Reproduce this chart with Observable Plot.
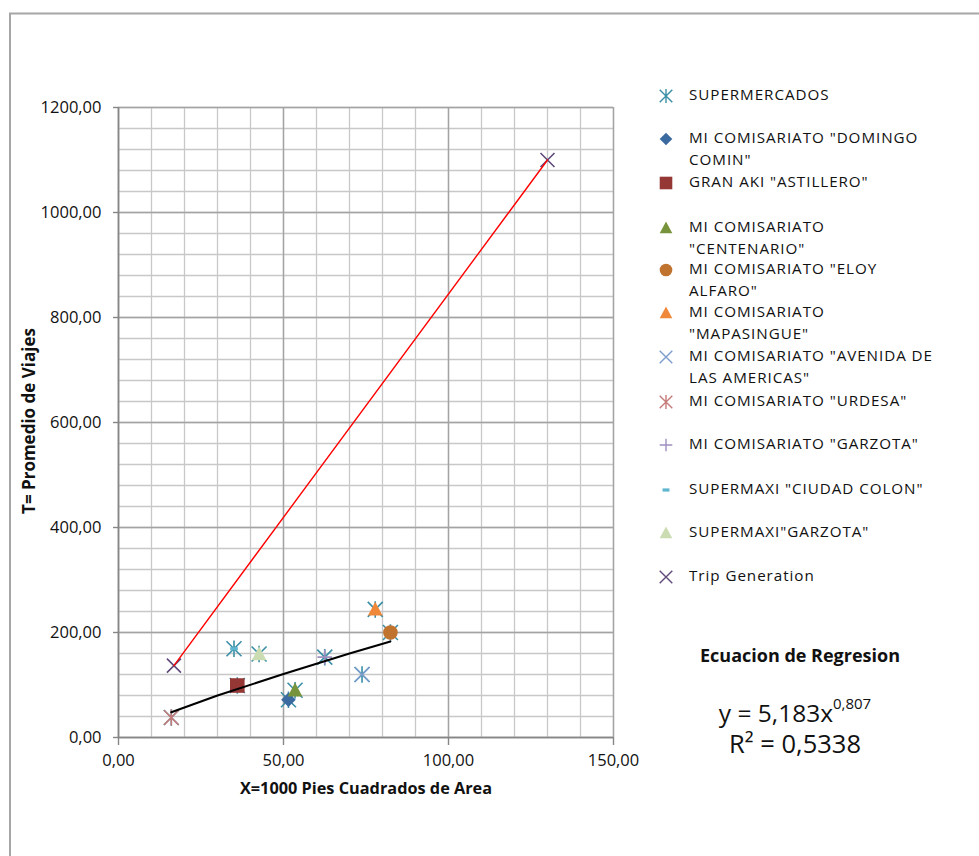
<!DOCTYPE html>
<html><head><meta charset="utf-8">
<script src="https://cdn.jsdelivr.net/npm/d3@7"></script>
<script src="https://cdn.jsdelivr.net/npm/@observablehq/plot@0.6"></script>
<style>
body{margin:0;background:#fff;}
#chart{width:979px;height:856px;overflow:hidden;}
</style>
</head><body><div id="chart"></div>
<script>
// ---------- data ----------
const storeNames = [
  'MI COMISARIATO "DOMINGO COMIN"', 'GRAN AKI "ASTILLERO"', 'MI COMISARIATO "CENTENARIO"',
  'MI COMISARIATO "ELOY ALFARO"', 'MI COMISARIATO "MAPASINGUE"', 'MI COMISARIATO "AVENIDA DE LAS AMERICAS"',
  'MI COMISARIATO "URDESA"', 'MI COMISARIATO "GARZOTA"', 'SUPERMAXI "CIUDAD COLON"', 'SUPERMAXI"GARZOTA"'
];
const storeX = [51.5, 36.0, 53.5, 82.4, 77.8, 73.8, 16.0, 62.5, 35.0, 42.6];
const storeY = [72, 99, 90, 200, 244, 120, 38, 153, 169, 159];
const tripX = [16.8, 130.0];
const tripY = [137, 1100];
const trendX = [16, 30, 50, 70, 82.4];
const trendY = [48, 80, 121, 160, 183];
const xTicks = [0, 50, 100, 150];
const yTicks = [0, 200, 400, 600, 800, 1000, 1200];
const xMinor = [0,10,20,30,40,50,60,70,80,90,100,110,120,130,140,150];
const yMinor = [0,40,80,120,160,200,240,280,320,360,400,440,480,520,560,600,640,680,720,760,800,840,880,920,960,1000,1040,1080,1120,1160,1200];
const legendLabels = [
  ["SUPERMERCADOS"],
  ['MI COMISARIATO "DOMINGO', 'COMIN"'],
  ['GRAN AKI "ASTILLERO"'],
  ["MI COMISARIATO", '"CENTENARIO"'],
  ['MI COMISARIATO "ELOY', 'ALFARO"'],
  ["MI COMISARIATO", '"MAPASINGUE"'],
  ['MI COMISARIATO "AVENIDA DE', 'LAS AMERICAS"'],
  ['MI COMISARIATO "URDESA"'],
  ['MI COMISARIATO "GARZOTA"'],
  ['SUPERMAXI "CIUDAD COLON"'],
  ['SUPERMAXI"GARZOTA"'],
  ["Trip Generation"]
];
const eqTitle = "Ecuacion de Regresion";
const eqMain = "y = 5,183x";
const eqExp = "0,807";
const eqR2 = "R² = 0,5338";

// ---------- styles ----------
function sym(kind){
  return {draw(ctx, size){
    const s = Math.sqrt(size/Math.PI);
    if (kind==="star"){ ctx.moveTo(-s,-s);ctx.lineTo(s,s);ctx.moveTo(-s,s);ctx.lineTo(s,-s);ctx.moveTo(0,-s*1.1);ctx.lineTo(0,s*1.1);}
    else if (kind==="x"){ ctx.moveTo(-s,-s);ctx.lineTo(s,s);ctx.moveTo(-s,s);ctx.lineTo(s,-s);}
    else if (kind==="plus"){ ctx.moveTo(-s,0);ctx.lineTo(s,0);ctx.moveTo(0,-s);ctx.lineTo(0,s);}
    else if (kind==="dash"){ ctx.rect(-s*0.55,-1.6,s*1.1,3.2);}
    else if (kind==="diamond"){ ctx.moveTo(0,-s);ctx.lineTo(s,0);ctx.lineTo(0,s);ctx.lineTo(-s,0);ctx.closePath();}
    else if (kind==="square"){ ctx.rect(-s,-s,2*s,2*s);}
    else if (kind==="circle"){ ctx.moveTo(s,0);ctx.arc(0,0,s,0,2*Math.PI);}
    else if (kind==="triangle"){ ctx.moveTo(0,-s*1.05);ctx.lineTo(s,s*0.85);ctx.lineTo(-s,s*0.85);ctx.closePath();}
  }};
}
// style per series: [symbol kind, color, filled]
const supStyle = ["star", "#3a8fa6", false];
const storeStyles = [
  ["diamond", "#3b6aa0", true],
  ["square", "#953735", true],
  ["triangle", "#77933c", true],
  ["circle", "#c0722f", true],
  ["triangle", "#f0883a", true],
  ["x", "#7c9dce", false],
  ["star", "#c67b7b", false],
  ["plus", "#a08fc0", false],
  ["dash", "#5fb6cf", true],
  ["triangle", "#cbdcb2", true]
];
const tripStyle = ["x", "#604a7b", false];
const legendStyles = [supStyle, ...storeStyles, tripStyle];

const fmt = d => d.toFixed(2).replace(".", ",");
const FONT = "'Open Sans', sans-serif";

const storeData = storeX.map((x,i)=>({x, y: storeY[i], name: storeNames[i]}));
const tripData = tripX.map((x,i)=>({x, y: tripY[i]}));
const trendData = trendX.map((x,i)=>({x, y: trendY[i]}));

function dotMark(data, st, r){
  const [kind, color, filled] = st;
  return Plot.dot(data, {x:"x", y:"y", r, symbol: sym(kind),
    fill: filled ? color : "none", stroke: filled ? "none" : color, strokeWidth: 1.6});
}

const svg = Plot.plot({
  width: 979, height: 856,
  marginLeft: 118, marginRight: 366, marginTop: 107, marginBottom: 119,
  x: {domain: [0,150]},
  y: {domain: [0,1200]},
  style: {fontFamily: FONT, fontSize: "16.5px", color: "#000", background: "#fff"},
  marks: [
    Plot.ruleX(xMinor, {stroke:"#c8c8c8", strokeWidth:1.3}),
    Plot.ruleY(yMinor, {stroke:"#c8c8c8", strokeWidth:1.3}),
    Plot.ruleX(xTicks, {stroke:"#a3a3a3", strokeWidth:1.4}),
    Plot.ruleY(yTicks, {stroke:"#a3a3a3", strokeWidth:1.4}),
    Plot.axisX({ticks: xTicks, tickFormat: fmt, tickSize: 8, tickPadding: 9, label: null, stroke:"#868686", strokeWidth:1.4, fill:"#111"}),
    Plot.axisY({ticks: yTicks, tickFormat: fmt, tickSize: 5, tickPadding: 12, label: null, stroke:"#868686", strokeWidth:1.4, fill:"#111"}),
    Plot.ruleX([0], {stroke:"#868686", strokeWidth:1.6}),
    Plot.ruleY([0], {stroke:"#868686", strokeWidth:1.6}),
    dotMark(storeData, supStyle, 7.5),
    ...storeData.map((d,i)=>dotMark([d], storeStyles[i], storeStyles[i][0]==="dash" ? 7 : 7.3)),
    dotMark(tripData, tripStyle, 7),
    Plot.line(tripData, {x:"x", y:"y", stroke:"#ff0000", strokeWidth:1.4}),
    Plot.line(trendData, {x:"x", y:"y", stroke:"#000", strokeWidth:2})
  ]
});

const root = d3.select(svg);
root.append("rect").attr("x",10).attr("y",13.5).attr("width",1100).attr("height",1000)
  .attr("fill","none").attr("stroke","#a6a6a6").attr("stroke-width",2);

// axis titles
root.append("text").attr("x",366).attr("y",790).attr("text-anchor","middle").attr("dominant-baseline","middle")
  .attr("font-family",FONT).attr("font-weight","bold").attr("font-size","16.3px").attr("fill","#111")
  .text("X=1000 Pies Cuadrados de Area");
root.append("text").attr("transform","translate(30,421) rotate(-90)").attr("text-anchor","middle").attr("dominant-baseline","middle")
  .attr("font-family",FONT).attr("font-weight","bold").attr("font-size","17px").attr("fill","#111")
  .text("T= Promedio de Viajes");

// legend
const legY = [96,139,183,228,270,313,357,402,445,490,533,577];
const leg = root.append("g").attr("font-family",FONT).attr("font-size","15.2px").attr("fill","#111")
  .attr("letter-spacing","0.95px").attr("text-anchor","start");
legendLabels.forEach((lines,i)=>{
  const [kind,color,filled] = legendStyles[i];
  const p = d3.path(); sym(kind).draw(p, Math.PI*6.3*6.3);
  leg.append("path").attr("transform",`translate(666,${legY[i]})`).attr("d",p.toString())
    .attr("fill", filled?color:"none").attr("stroke", filled?"none":color).attr("stroke-width",1.4);
  lines.forEach((t,j)=>{
    leg.append("text").attr("x",689).attr("y",legY[i]+j*22).attr("dominant-baseline","middle").text(t);
  });
});

// regression equation
root.append("text").attr("x",800).attr("y",657).attr("text-anchor","middle").attr("dominant-baseline","middle")
  .attr("font-family",FONT).attr("font-weight","bold").attr("font-size","18px").attr("fill","#111").text(eqTitle);
const eq = root.append("text").attr("x",795).attr("y",715).attr("text-anchor","middle").attr("dominant-baseline","middle")
  .attr("font-family",FONT).attr("font-size","24.5px").attr("fill","#111");
eq.append("tspan").text(eqMain);
eq.append("tspan").attr("font-size","15px").attr("dy","-10").text(eqExp);
root.append("text").attr("x",795).attr("y",746).attr("text-anchor","middle").attr("dominant-baseline","middle")
  .attr("font-family",FONT).attr("font-size","25.5px").attr("fill","#111").text(eqR2);

document.getElementById("chart").appendChild(svg);
</script>
</body></html>
